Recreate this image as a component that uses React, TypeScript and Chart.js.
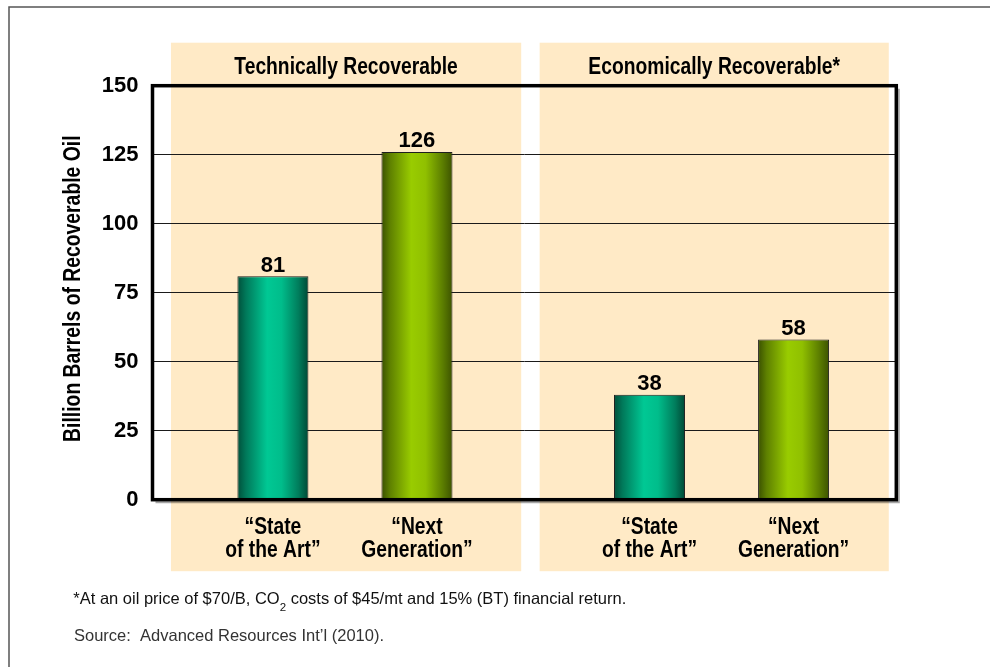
import React, { useEffect, useRef } from 'react';
import { Chart, registerables } from 'chart.js';

Chart.register(...registerables);

// ---- data ----
const groups = ['Technically Recoverable', 'Economically Recoverable*'];
const seriesNames = ['State of the Art', 'Next Generation'];
const seriesLabelLines = [
  ['\u201CState', 'of the Art\u201D'],
  ['\u201CNext', 'Generation\u201D'],
];
const stateOfTheArt = [81, 38];
const nextGeneration = [126, 58];
const yTicks = [0, 25, 50, 75, 100, 125, 150];
const yAxisTitle = 'Billion Barrels of Recoverable Oil';
const footnoteParts = ['*At an oil price of $70/B, CO', '2', ' costs of $45/mt and 15% (BT) financial return.'];
const sourceNote = 'Source:  Advanced Resources Int\u2019l (2010).';

// ---- styling ----
const FONT = '"Liberation Sans", Arial, Helvetica, sans-serif';
const NARROW = 0.82; // horizontal squeeze that gives Arial Narrow proportions
const PANEL_COLOR = '#FFEAC6';
// group backdrops, in x-axis units
const PANEL_RANGES: [number, number][] = [
  [-0.462, 0.468],
  [0.517, 1.444],
];
const TEAL: [number, string][] = [
  [0, '#004f3a'], [0.12, '#00795a'], [0.42, '#00c894'], [0.62, '#00bd8b'], [0.86, '#007d5c'], [1, '#004835'],
];
const GREEN: [number, string][] = [
  [0, '#3a5000'], [0.12, '#5e8000'], [0.42, '#99cc00'], [0.62, '#90c000'], [0.86, '#5c7e00'], [1, '#3d5300'],
];

const gradientFill = (stops: [number, string][], fallback: string) => (ctx: any) => {
  const el = ctx.element;
  if (ctx.type !== 'data' || !el || typeof el.x !== 'number' || typeof el.width !== 'number' || !isFinite(el.x)) {
    return fallback;
  }
  const left = el.x - el.width / 2;
  const right = el.x + el.width / 2;
  const g = ctx.chart.ctx.createLinearGradient(left, 0, right, 0);
  stops.forEach(([o, c]) => g.addColorStop(o, c));
  return g;
};

function narrowText(
  ctx: CanvasRenderingContext2D,
  text: string,
  x: number,
  y: number,
  size: number,
  rotate = 0,
) {
  ctx.save();
  ctx.translate(x, y);
  if (rotate) ctx.rotate(rotate);
  ctx.scale(NARROW, 1);
  ctx.font = `bold ${size}px ${FONT}`;
  ctx.textAlign = 'center';
  ctx.textBaseline = 'alphabetic';
  ctx.fillStyle = '#000';
  ctx.fillText(text, 0, 0);
  ctx.restore();
}

const decorations = {
  id: 'decorations',
  beforeDraw(chart: any) {
    const { ctx, chartArea, scales } = chart;
    ctx.save();
    ctx.fillStyle = '#fff';
    ctx.fillRect(0, 0, chart.width, chart.height);

    // outer slide frame
    ctx.strokeStyle = '#555';
    ctx.lineWidth = 1.5;
    ctx.beginPath();
    ctx.moveTo(9, chart.height);
    ctx.lineTo(9, 7);
    ctx.lineTo(chart.width, 7);
    ctx.stroke();

    // group backdrops
    ctx.fillStyle = PANEL_COLOR;
    PANEL_RANGES.forEach(([a, b]) => {
      const x0 = scales.x.getPixelForValue(a);
      const x1 = scales.x.getPixelForValue(b);
      ctx.fillRect(x0, chartArea.top - 43, x1 - x0, chartArea.bottom + 71.5 - (chartArea.top - 43));
    });
    ctx.restore();
  },
  afterDatasetsDraw(chart: any) {
    const { ctx, chartArea, scales } = chart;
    ctx.save();

    // plot frame with a soft shadow
    ctx.strokeStyle = 'rgba(0,0,0,0.35)';
    ctx.lineWidth = 2;
    ctx.beginPath();
    ctx.moveTo(chartArea.right + 2.5, chartArea.top + 3);
    ctx.lineTo(chartArea.right + 2.5, chartArea.bottom + 2.5);
    ctx.lineTo(chartArea.left + 3, chartArea.bottom + 2.5);
    ctx.stroke();
    ctx.strokeStyle = '#000';
    ctx.lineWidth = 3.5;
    ctx.strokeRect(chartArea.left, chartArea.top, chartArea.right - chartArea.left, chartArea.bottom - chartArea.top);

    // group titles
    groups.forEach((g, i) => {
      const [a, b] = PANEL_RANGES[i];
      const cx = (scales.x.getPixelForValue(a) + scales.x.getPixelForValue(b)) / 2;
      narrowText(ctx, g, cx, chartArea.top - 11.7, 23.5);
    });

    // value labels and bar captions
    chart.data.datasets.forEach((ds: any, di: number) => {
      const meta = chart.getDatasetMeta(di);
      meta.data.forEach((bar: any, j: number) => {
        const v = ds.data[j].y;
        ctx.font = `bold 22px ${FONT}`;
        ctx.fillStyle = '#000';
        ctx.textAlign = 'center';
        ctx.textBaseline = 'alphabetic';
        ctx.fillText(String(v), bar.x, bar.y - 4.5);
        const lines = seriesLabelLines[di];
        narrowText(ctx, lines[0], bar.x, chartArea.bottom + 34.3, 23.5);
        narrowText(ctx, lines[1], bar.x, chartArea.bottom + 56.8, 23.5);
      });
    });

    // y-axis title
    narrowText(ctx, yAxisTitle, 80, (chartArea.top + chartArea.bottom) / 2 - 4, 23.6, -Math.PI / 2);

    // footnotes
    ctx.fillStyle = '#111';
    ctx.textAlign = 'left';
    ctx.textBaseline = 'alphabetic';
    let x = 73.3;
    const base = 604;
    ctx.font = `16.5px ${FONT}`;
    ctx.fillText(footnoteParts[0], x, base);
    x += ctx.measureText(footnoteParts[0]).width;
    ctx.font = `11.5px ${FONT}`;
    ctx.fillText(footnoteParts[1], x, base + 6.5);
    x += ctx.measureText(footnoteParts[1]).width;
    ctx.font = `16.5px ${FONT}`;
    ctx.fillText(footnoteParts[2], x, base);

    ctx.fillStyle = '#333';
    ctx.fillText(sourceNote, 74, 640.7);
    ctx.restore();
  },
};

export default function App() {
  const ref = useRef<HTMLCanvasElement>(null);

  useEffect(() => {
    const canvas = ref.current;
    if (!canvas) return;
    const chart = new Chart(canvas, {
      type: 'bar',
      data: {
        datasets: [
          {
            label: seriesNames[0],
            data: groups.map((_, i) => ({ x: i, y: stateOfTheArt[i] })),
            backgroundColor: gradientFill(TEAL, '#00b386'),
            borderColor: '#1e1e1e',
            borderWidth: 1,
            categoryPercentage: 0.765,
            barPercentage: 0.493,
          },
          {
            label: seriesNames[1],
            data: groups.map((_, i) => ({ x: i, y: nextGeneration[i] })),
            backgroundColor: gradientFill(GREEN, '#8fbf00'),
            borderColor: '#1e1e1e',
            borderWidth: 1,
            categoryPercentage: 0.765,
            barPercentage: 0.493,
          },
        ] as any,
      },
      options: {
        animation: false,
        responsive: false,
        events: [],
        layout: { padding: { left: 0, top: 85.7, right: 93.7, bottom: 167.3 } },
        plugins: { legend: { display: false }, tooltip: { enabled: false } },
        scales: {
          x: {
            type: 'linear',
            min: -0.511,
            max: 1.464,
            offset: false,
            display: false,
            afterBuildTicks: (s: any) => {
              s.ticks = groups.map((_, i) => ({ value: i }));
            },
          },
          y: {
            min: 0,
            max: 150,
            afterBuildTicks: (s: any) => {
              s.ticks = yTicks.map((v) => ({ value: v }));
            },
            afterFit: (s: any) => {
              s.width = 152.5;
            },
            ticks: {
              font: { family: FONT, size: 22, weight: 'bold' },
              color: '#000',
              padding: 14,
            },
            grid: { color: '#1a1a1a', lineWidth: 1, drawTicks: false },
            border: { display: false },
          },
        },
      } as any,
      plugins: [decorations],
    });
    // second pass so the bar gradients can use the laid-out bar geometry
    chart.update();
    return () => chart.destroy();
  }, []);

  return (
    <div style={{ position: 'absolute', left: 0, top: 0, width: 990, height: 667, background: '#fff' }}>
      <canvas ref={ref} width={990} height={667} style={{ display: 'block', width: 990, height: 667 }} />
    </div>
  );
}
